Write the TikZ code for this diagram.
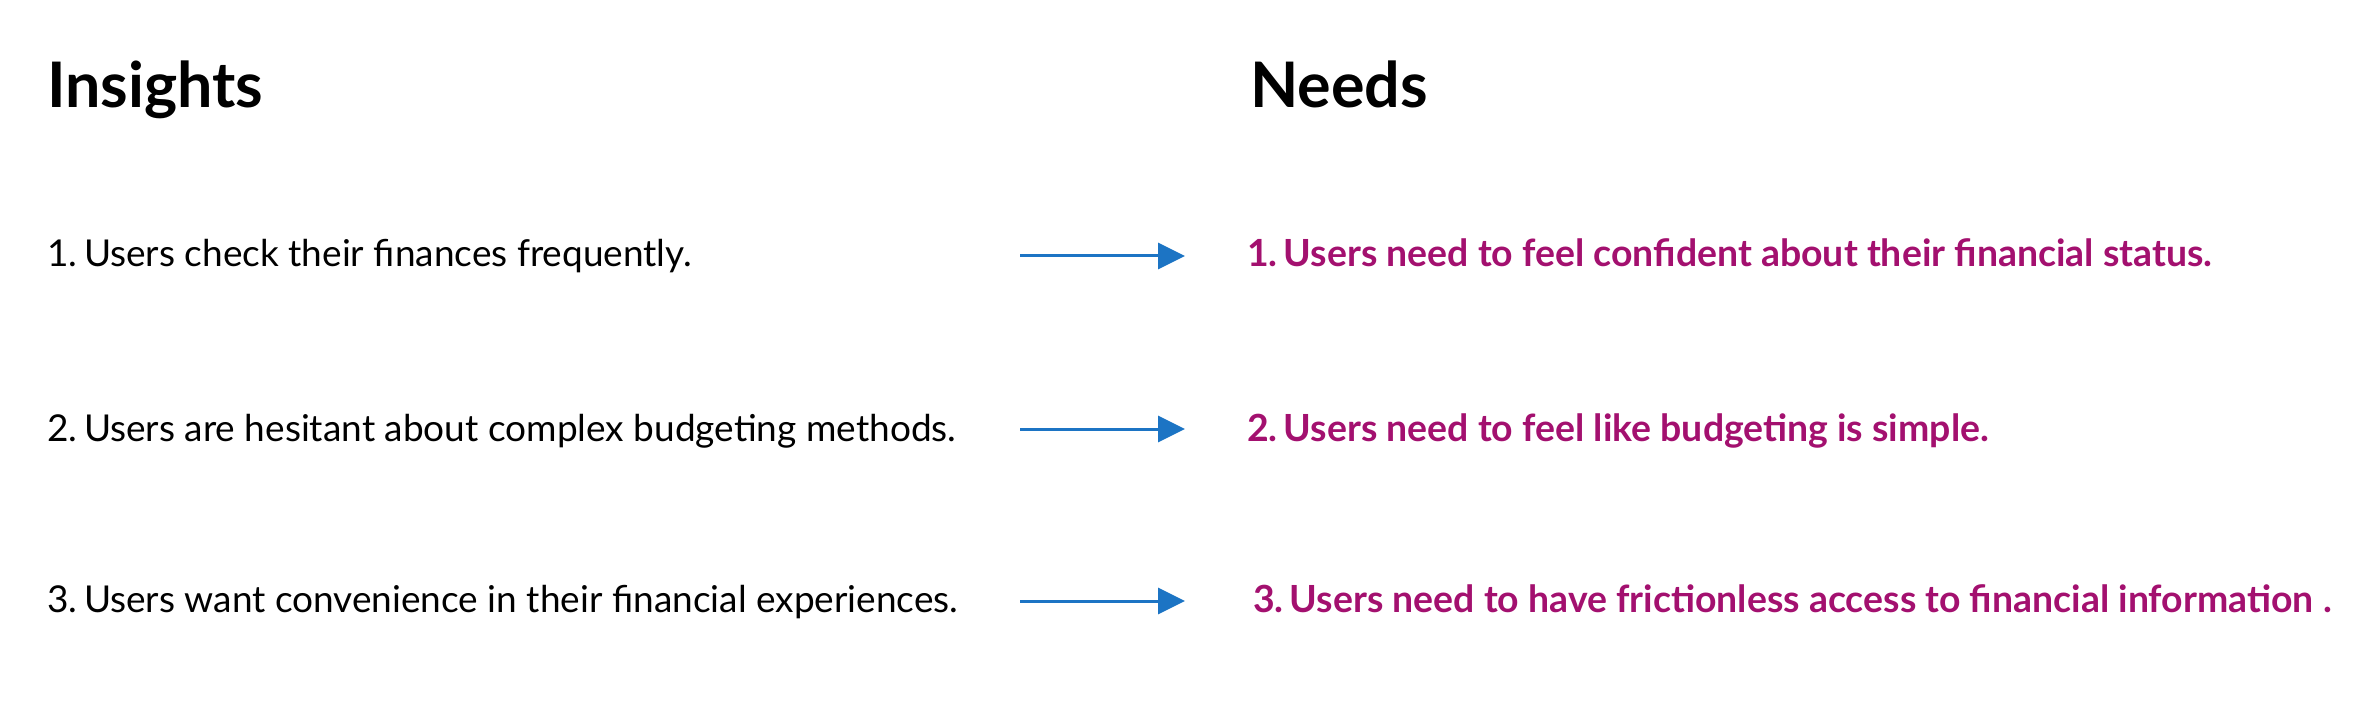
\documentclass[tikz,border=0pt]{standalone}
\usepackage{fontspec}
\setmainfont{Lato}
\usetikzlibrary{arrows.meta}
\definecolor{needc}{HTML}{A3106F}
\definecolor{arrc}{HTML}{1C74C4}
\newcommand{\numtight}{\kern-6pt}
\tikzset{
  heading/.style={anchor=base west,inner sep=0pt,font=\fontsize{62.8}{70}\selectfont\bfseries},
  insight/.style={anchor=base west,inner sep=0pt,font=\fontsize{37.0}{42}\selectfont},
  need/.style={anchor=base west,inner sep=0pt,text=needc,font=\fontsize{37.4}{42}\selectfont\bfseries},
  link/.style={draw=arrc,line width=3pt,-{Triangle[length=27pt,width=26pt]}}
}
\begin{document}
\begin{tikzpicture}[x=1pt,y=-1pt]
\useasboundingbox (0,0) rectangle (2358,708);
\node[heading] (hi) at (47,108) {Insights};
\node[heading] (hn) at (1250,108) {Needs};
\node[insight] (i1) at (47,267) {1. \numtight Users check their finances frequently.};
\node[insight] (i2) at (47,441) {2. \numtight Users are hesitant about complex budgeting methods.};
\node[insight] (i3) at (47,612) {3. \numtight Users want convenience in their financial experiences.};
\node[need] (n1) at (1247,267) {1. \numtight Users need to feel confident about their financial status.};
\node[need] (n2) at (1247,441) {2. \numtight Users need to feel like budgeting is simple.};
\node[need] (n3) at (1253,612) {3. \numtight Users need to have frictionless access to financial information .};
\coordinate (a1s) at (1020,256); \coordinate (a1e) at (1185,256);
\coordinate (a2s) at (1020,429); \coordinate (a2e) at (1185,429);
\coordinate (a3s) at (1020,601); \coordinate (a3e) at (1185,601);
\draw[link] (a1s) -- (a1e);
\draw[link] (a2s) -- (a2e);
\draw[link] (a3s) -- (a3e);
\end{tikzpicture}
\end{document}
